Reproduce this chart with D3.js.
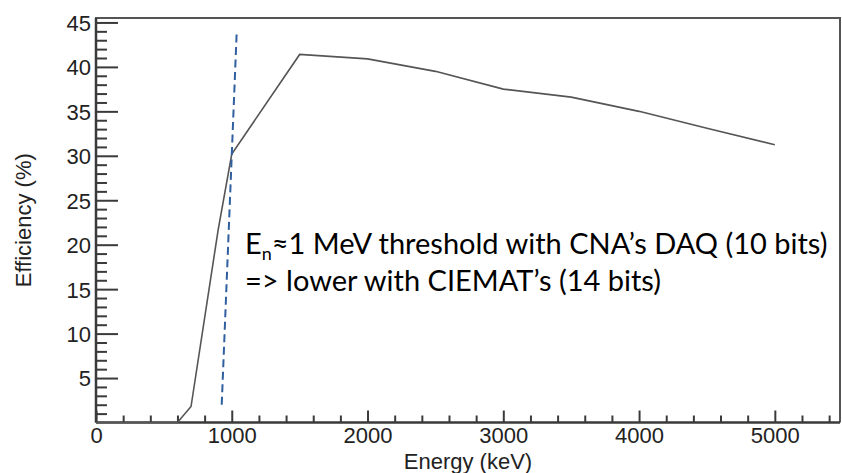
<!DOCTYPE html>
<html>
<head>
<meta charset="utf-8">
<script src="https://cdn.jsdelivr.net/npm/d3@7"></script>
<style>
  body { margin: 0; background: #fff; }
  svg { display: block; }
  .tick-label { font-family: "Liberation Sans", Arial, sans-serif; font-size: 22px; fill: #222; }
  .axis-title { font-family: "Liberation Sans", Arial, sans-serif; font-size: 22px; fill: #222; }
  .note { font-family: Lato, "Noto Sans", sans-serif; font-size: 29px; fill: #000; }
</style>
</head>
<body>
<div id="chart"></div>
<script>
// efficiency curve
var energy = [0, 600, 700, 900, 1000, 1500, 2000, 2500, 3000, 3500, 4000, 4500, 5000];
var efficiency = [0, 0, 1.8, 21.7, 30.2, 41.4, 40.9, 39.5, 37.5, 36.6, 35.0, 33.1, 31.25];

// dashed threshold marker
var thresholdEnergy = [926, 1036];
var thresholdEff = [2.0, 43.8];

var xMajor = [0, 1000, 2000, 3000, 4000, 5000];
var yMajor = [5, 10, 15, 20, 25, 30, 35, 40, 45];

var noteLines = ["≈1 MeV threshold with CNA’s DAQ (10 bits)", "=> lower with CIEMAT’s (14 bits)"];

var svgWidth = 842;
var svgHeight = 473;

var svg = d3.select("#chart")
    .append("svg")
    .attr("width", svgWidth)
    .attr("height", svgHeight);

var x = d3.scaleLinear().domain([0, 5480]).range([96, 840]);
var y = d3.scaleLinear().domain([0, 45.5]).range([422.5, 18]);

var axisColor = "#3a3a3a";

// frame
svg.append("path")
    .attr("d", `M${x(0)},${y(0)} V${y.range()[1]} H${x.range()[1]} V${y(0)}`)
    .attr("fill", "none")
    .attr("stroke", "#555")
    .attr("stroke-width", 2);

// minor ticks
var xMinor = d3.range(200, 5480, 200).filter(d => d % 1000 !== 0);
var yMinor = d3.range(1, 45, 1).filter(d => d % 5 !== 0);

var xAxis = d3.axisBottom(x).tickValues(xMajor).tickSize(-12).tickPadding(5).tickFormat(d3.format("d"));
var xAxisMinor = d3.axisBottom(x).tickValues(xMinor).tickSize(-7).tickFormat("");
var yAxis = d3.axisLeft(y).tickValues(yMajor).tickSize(-22).tickFormat(d3.format("d"));
var yAxisMinor = d3.axisLeft(y).tickValues(yMinor).tickSize(-11).tickFormat("");

function styleAxis(g) {
    g.select(".domain").remove();
    g.selectAll(".tick line").attr("stroke", axisColor).attr("stroke-width", 2);
    g.selectAll(".tick text").attr("class", "tick-label").attr("fill", null);
}

svg.append("g").attr("transform", `translate(0,${y(0)})`).call(xAxisMinor).call(styleAxis);
svg.append("g").attr("transform", `translate(0,${y(0)})`).call(xAxis).call(styleAxis)
    .selectAll(".tick text").attr("dy", "0.71em");
svg.append("g").attr("transform", `translate(${x(0)},0)`).call(yAxisMinor).call(styleAxis);
var yg = svg.append("g").attr("transform", `translate(${x(0)},0)`).call(yAxis).call(styleAxis);
yg.selectAll(".tick text").attr("x", -5).attr("text-anchor", "end").attr("dy", "0.36em");

// axis lines
svg.append("line")
    .attr("x1", x(0)).attr("x2", x.range()[1])
    .attr("y1", y(0)).attr("y2", y(0))
    .attr("stroke", axisColor).attr("stroke-width", 2.5);
svg.append("line")
    .attr("x1", x(0)).attr("x2", x(0))
    .attr("y1", y(0)).attr("y2", y.range()[1])
    .attr("stroke", axisColor).attr("stroke-width", 2.5);

// curve
var line = d3.line()
    .x((d, i) => x(energy[i]))
    .y((d, i) => y(efficiency[i]));

svg.append("path")
    .datum(efficiency)
    .attr("d", line)
    .attr("fill", "none")
    .attr("stroke", "#555")
    .attr("stroke-width", 1.6);

// threshold line
svg.append("line")
    .attr("x1", x(thresholdEnergy[0])).attr("y1", y(thresholdEff[0]))
    .attr("x2", x(thresholdEnergy[1])).attr("y2", y(thresholdEff[1]))
    .attr("stroke", "#2f5f9e")
    .attr("stroke-width", 2)
    .attr("stroke-dasharray", "8,4.5");

// axis titles
svg.append("text")
    .attr("class", "axis-title")
    .attr("x", (x.range()[0] + x.range()[1]) / 2)
    .attr("y", 469)
    .attr("text-anchor", "middle")
    .text("Energy (keV)");

svg.append("text")
    .attr("class", "axis-title")
    .attr("transform", `translate(31,${(y.range()[0] + y.range()[1]) / 2}) rotate(-90)`)
    .attr("text-anchor", "middle")
    .text("Efficiency (%)");

// annotation
var note = svg.append("text").attr("class", "note");
var t1 = note.append("tspan").attr("x", 245).attr("y", 254);
t1.append("tspan").text("E");
t1.append("tspan").attr("font-size", "18px").attr("dy", 6).text("n");
t1.append("tspan").attr("dy", -6).text(noteLines[0]);
note.append("tspan").attr("x", 245).attr("y", 291).text(noteLines[1]);
</script>
</body>
</html>
